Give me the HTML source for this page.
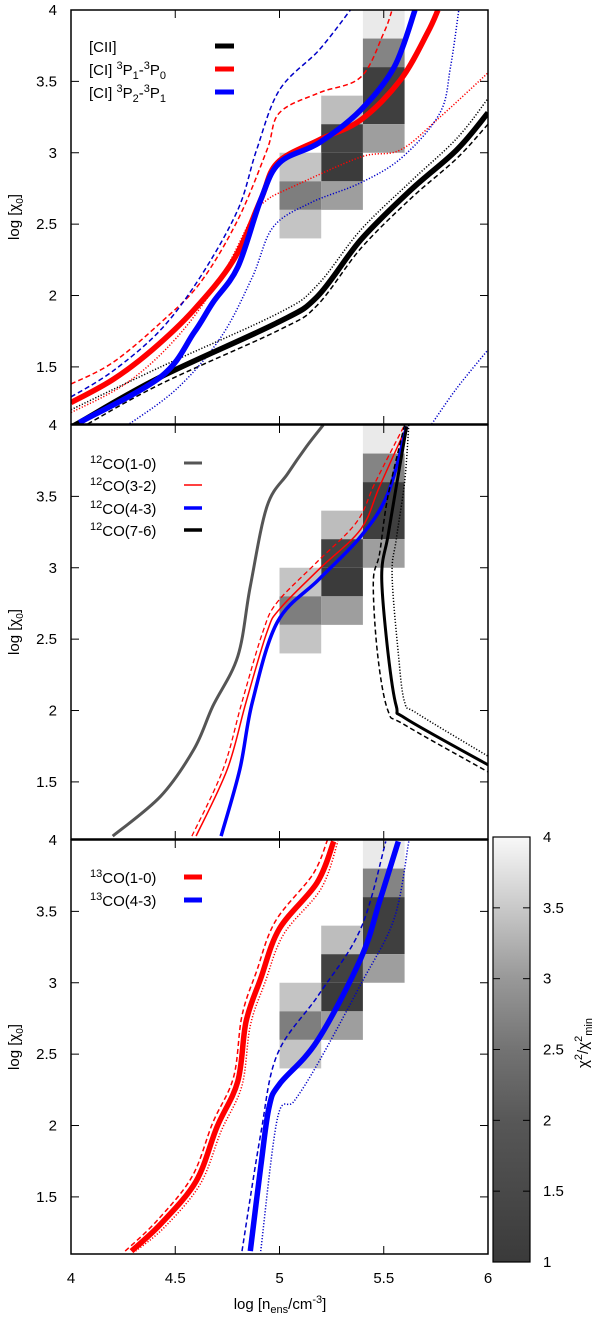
<!DOCTYPE html>
<html><head><meta charset="utf-8">
<style>
html,body{margin:0;padding:0;background:#fff;}
svg{display:block;font-family:"Liberation Sans",sans-serif;}
text{font-size:15px;fill:#000;}
</style></head>
<body>
<svg id="chart" width="600" height="1317" viewBox="0 0 600 1317" xmlns="http://www.w3.org/2000/svg">
<defs>
<linearGradient id="cbgrad" x1="0" y1="1" x2="0" y2="0">
<stop offset="0" stop-color="#3a3a3a"/><stop offset="0.33" stop-color="#575757"/>
<stop offset="0.5" stop-color="#737373"/><stop offset="0.67" stop-color="#999"/>
<stop offset="0.83" stop-color="#c8c8c8"/><stop offset="1" stop-color="#f8f8f8"/>
</linearGradient>
</defs>
<g id="cells"></g>
<g id="lines"></g>
<g id="frames"></g>
<g id="legends"></g>
</svg>
<script>
// ---- data ----
const xTicks = [4, 4.5, 5, 5.5, 6];
const yTicks = [1.5, 2, 2.5, 3, 3.5, 4];
const cbTicks = [1, 1.5, 2, 2.5, 3, 3.5, 4];
const cellX = [5.4, 5.4, 5.4, 5.4, 5.2, 5.2, 5.2, 5.2, 5.0, 5.0, 5.0];
const cellY = [3.8, 3.6, 3.2, 3.0, 3.2, 3.0, 2.8, 2.6, 2.8, 2.6, 2.4];
const cellH = [0.2, 0.2, 0.4, 0.2, 0.2, 0.2, 0.2, 0.2, 0.2, 0.2, 0.2];
const cellV = [3.9, 2.3, 1.2, 2.7, 3.2, 1.25, 1.15, 2.7, 3.3, 2.2, 3.3];

// panel 1
const ciiX = [4.0, 4.04, 4.43, 4.99, 5.18, 5.39, 5.63, 5.85, 6.0];
const ciiY = [1.08, 1.11, 1.43, 1.81, 1.99, 2.39, 2.74, 3.02, 3.28];
const ciiDotX = [4.0, 4.43, 5.0, 5.18, 5.39, 5.63, 5.85, 6.0];
const ciiDotY = [1.2, 1.5, 1.88, 2.07, 2.46, 2.8, 3.1, 3.38];
const ciiDashX = [4.08, 4.43, 5.0, 5.18, 5.39, 5.63, 5.85, 6.0];
const ciiDashY = [1.1, 1.38, 1.76, 1.93, 2.33, 2.68, 2.96, 3.2];
const ci10X = [4.0, 4.2, 4.39, 4.59, 4.78, 4.91, 4.99, 5.19, 5.39, 5.58, 5.71, 5.76];
const ci10Y = [1.25, 1.41, 1.62, 1.9, 2.25, 2.67, 2.93, 3.09, 3.23, 3.51, 3.84, 4.0];
const ci10DashX = [4.0, 4.2, 4.43, 4.62, 4.8, 4.94, 5.0, 5.19, 5.39, 5.5, 5.54];
const ci10DashY = [1.38, 1.53, 1.81, 2.09, 2.53, 3.02, 3.28, 3.42, 3.53, 3.84, 4.0];
const ci10DotX = [4.0, 4.27, 4.51, 4.72, 4.87, 4.94, 5.06, 5.39, 5.58, 5.77, 6.0];
const ci10DotY = [1.18, 1.39, 1.71, 2.13, 2.55, 2.67, 2.76, 2.97, 3.02, 3.25, 3.56];
const ci21X = [4.04, 4.43, 4.59, 4.68, 4.8, 4.91, 5.0, 5.19, 5.39, 5.55, 5.65];
const ci21Y = [1.11, 1.43, 1.74, 1.95, 2.2, 2.67, 2.93, 3.07, 3.3, 3.6, 4.0];
const ci21DashX = [4.0, 4.2, 4.43, 4.62, 4.8, 4.89, 5.0, 5.19, 5.34];
const ci21DashY = [1.29, 1.47, 1.76, 2.13, 2.6, 3.02, 3.44, 3.72, 4.0];
const ci21DotX = [4.27, 4.51, 4.72, 4.87, 4.97, 5.15, 5.39, 5.59, 5.77, 5.82, 5.86];
const ci21DotY = [1.09, 1.35, 1.71, 2.13, 2.48, 2.65, 2.79, 2.97, 3.28, 3.6, 4.0];
const ci21Dot2X = [5.73, 5.85, 6.0];
const ci21Dot2Y = [1.1, 1.35, 1.62];

// panel 2
const co10X = [4.2, 4.43, 4.59, 4.68, 4.8, 4.86, 4.94, 5.04, 5.13, 5.21];
const co10Y = [1.12, 1.4, 1.73, 2.03, 2.38, 2.87, 3.43, 3.66, 3.85, 4.0];
const co32X = [4.6, 4.75, 4.84, 4.94, 5.0, 5.19, 5.39, 5.48, 5.61];
const co32Y = [1.12, 1.59, 2.06, 2.55, 2.71, 2.99, 3.27, 3.57, 3.99];
const co32DashX = [4.58, 4.73, 4.82, 4.92, 4.99, 5.18, 5.37, 5.46, 5.6];
const co32DashY = [1.12, 1.59, 2.06, 2.55, 2.76, 3.04, 3.32, 3.6, 4.0];
const co43X = [4.72, 4.81, 4.87, 4.99, 5.19, 5.39, 5.52, 5.61];
const co43Y = [1.12, 1.59, 2.06, 2.62, 2.92, 3.22, 3.52, 3.99];
const co76X = [5.61, 5.56, 5.52, 5.49, 5.52, 5.56, 5.61, 6.0];
const co76Y = [3.99, 3.57, 3.22, 2.94, 2.41, 2.03, 1.94, 1.62];
const co76DashX = [5.6, 5.52, 5.48, 5.45, 5.47, 5.52, 5.6, 6.0];
const co76DashY = [4.0, 3.5, 3.1, 2.9, 2.4, 2.0, 1.9, 1.57];
const co76DotX = [5.62, 5.6, 5.56, 5.54, 5.57, 5.6, 5.66, 6.0];
const co76DotY = [4.0, 3.6, 3.2, 2.95, 2.4, 2.06, 1.98, 1.68];

// panel 3
const c13X = [4.29, 4.43, 4.6, 4.7, 4.8, 4.84, 4.91, 5.0, 5.18, 5.26];
const c13Y = [1.12, 1.31, 1.61, 1.99, 2.31, 2.73, 3.03, 3.38, 3.7, 3.99];
const c13DashX = [4.26, 4.41, 4.58, 4.68, 4.78, 4.82, 4.89, 4.98, 5.16, 5.23];
const c13DashY = [1.12, 1.33, 1.64, 2.02, 2.34, 2.77, 3.08, 3.43, 3.76, 4.0];
const c13DotX = [4.31, 4.45, 4.62, 4.72, 4.82, 4.86, 4.93, 5.02, 5.2, 5.28];
const c13DotY = [1.12, 1.29, 1.59, 1.96, 2.28, 2.7, 3.0, 3.34, 3.66, 3.99];
const c1343X = [4.86, 4.91, 4.95, 5.0, 5.18, 5.39, 5.48, 5.57];
const c1343Y = [1.12, 1.71, 2.13, 2.29, 2.59, 3.17, 3.57, 3.99];
const c1343DashX = [4.82, 4.91, 4.99, 5.19, 5.39, 5.51];
const c1343DashY = [1.12, 1.94, 2.5, 2.92, 3.38, 3.99];
const c1343DotX = [4.91, 4.99, 5.07, 5.19, 5.39, 5.55, 5.62];
const c1343DotY = [1.12, 2.05, 2.17, 2.45, 2.99, 3.45, 3.99];

// ---- layout ----
const NS = "http://www.w3.org/2000/svg";
const L = 71, R = 488, YMIN = 1.1, YMAX = 4;
const panelTops = [10, 425, 840];
const PH = 414;
function sx(v){ return L + (v - 4) / 2 * (R - L); }
function syF(top){ return v => top + (YMAX - v) / (YMAX - YMIN) * PH; }
function mk(tag, attrs, parent){
  const e = document.createElementNS(NS, tag);
  for (const k in attrs) e.setAttribute(k, attrs[k]);
  parent.appendChild(e); return e;
}
const svg = document.getElementById('chart');
const gCells = document.getElementById('cells');
const gLines = document.getElementById('lines');
const gFrames = document.getElementById('frames');
const gLeg = document.getElementById('legends');

const defs = svg.querySelector('defs');
panelTops.forEach((t, i) => {
  const cp = mk('clipPath', {id: 'clip' + i}, defs);
  mk('rect', {x: L, y: t, width: R - L, height: PH}, cp);
});

function grayOf(v){ const g = Math.round(50 + (v - 1) / 3 * 190); return `rgb(${g},${g},${g})`; }

panelTops.forEach((t, pi) => {
  const sy = syF(t);
  for (let i = 0; i < cellX.length; i++) {
    const r = mk('rect', {x: sx(cellX[i]), y: sy(cellY[i] + cellH[i]), width: sx(cellX[i] + 0.2) - sx(cellX[i]), height: sy(cellY[i]) - sy(cellY[i] + cellH[i]), fill: grayOf(cellV[i])}, gCells);
    
    
  }
});

function smoothPath(pts){
  let d = 'M' + pts[0][0].toFixed(1) + ',' + pts[0][1].toFixed(1);
  for (let i = 0; i < pts.length - 1; i++) {
    const p0 = pts[i - 1] || pts[i], p1 = pts[i], p2 = pts[i + 1], p3 = pts[i + 2] || p2;
    const c1x = p1[0] + (p2[0] - p0[0]) / 6, c1y = p1[1] + (p2[1] - p0[1]) / 6;
    const c2x = p2[0] - (p3[0] - p1[0]) / 6, c2y = p2[1] - (p3[1] - p1[1]) / 6;
    d += 'C' + c1x.toFixed(1) + ',' + c1y.toFixed(1) + ' ' + c2x.toFixed(1) + ',' + c2y.toFixed(1) + ' ' + p2[0].toFixed(1) + ',' + p2[1].toFixed(1);
  }
  return d;
}
function line(pi, xs, ys, color, w, style, name){
  const sy = syF(panelTops[pi]);
  const pts = xs.map((x, i) => [sx(x), sy(ys[i])]);
  const a = {d: smoothPath(pts), fill: 'none', stroke: color, 'stroke-width': w, 'stroke-linejoin': 'round', 'clip-path': 'url(#clip' + pi + ')'};
  if (style === 'dash') a['stroke-dasharray'] = '5,3';
  if (style === 'dot') a['stroke-dasharray'] = '1.2,1.8';
  const p = mk('path', a, gLines);
  
  
}
const RED = '#f00', BLUE = '#00f', DBLUE = '#0000c8';
line(0, ciiDotX, ciiDotY, '#000', 1.5, 'dot', 'cii-dotted');
line(0, ciiDashX, ciiDashY, '#000', 1.5, 'dash', 'cii-dashed');
line(0, ci10DashX, ci10DashY, RED, 1.5, 'dash', 'ci10-dashed');
line(0, ci10DotX, ci10DotY, RED, 1.5, 'dot', 'ci10-dotted');
line(0, ci21DashX, ci21DashY, DBLUE, 1.5, 'dash', 'ci21-dashed');
line(0, ci21DotX, ci21DotY, DBLUE, 1.5, 'dot', 'ci21-dotted');
line(0, ci21Dot2X, ci21Dot2Y, DBLUE, 1.5, 'dot', 'ci21-dotted-branch');
line(0, ciiX, ciiY, '#000', 5.5, 'solid', 'cii-line');
line(0, ci10X, ci10Y, RED, 5.5, 'solid', 'ci10-line');
line(0, ci21X, ci21Y, BLUE, 5.5, 'solid', 'ci21-line');
line(1, co10X, co10Y, '#555', 3, 'solid', 'co10-line');
line(1, co32DashX, co32DashY, RED, 1.3, 'dash', 'co32-dashed');
line(1, co32X, co32Y, RED, 1.5, 'solid', 'co32-line');
line(1, co43X, co43Y, BLUE, 3.5, 'solid', 'co43-line');
line(1, co76DashX, co76DashY, '#000', 1.5, 'dash', 'co76-dashed');
line(1, co76DotX, co76DotY, '#000', 1.5, 'dot', 'co76-dotted');
line(1, co76X, co76Y, '#000', 3, 'solid', 'co76-line');
line(2, c13DashX, c13DashY, RED, 1.5, 'dash', '13co10-dashed');
line(2, c13DotX, c13DotY, RED, 1.5, 'dot', '13co10-dotted');
line(2, c13X, c13Y, RED, 5.5, 'solid', '13co10-line');
line(2, c1343DashX, c1343DashY, DBLUE, 1.5, 'dash', '13co43-dashed');
line(2, c1343DotX, c1343DotY, DBLUE, 1.5, 'dot', '13co43-dotted');
line(2, c1343X, c1343Y, BLUE, 5.5, 'solid', '13co43-line');

panelTops.forEach((t, pi) => {
  const sy = syF(t);
  const f = mk('rect', {x: L, y: t, width: R - L, height: PH, fill: 'none', stroke: '#000', 'stroke-width': 1.5}, gFrames);
  
  
  xTicks.forEach(v => {
    if (v === 4 || v === 6) return;
    mk('line', {x1: sx(v), x2: sx(v), y1: t, y2: t + 8, stroke: '#000', 'stroke-width': 1}, gFrames);
    mk('line', {x1: sx(v), x2: sx(v), y1: t + PH, y2: t + PH - 8, stroke: '#000', 'stroke-width': 1}, gFrames);
  });
  yTicks.forEach(v => {
    mk('line', {x1: L, x2: L + 8, y1: sy(v), y2: sy(v), stroke: '#000', 'stroke-width': 1}, gFrames);
    mk('line', {x1: R, x2: R - 8, y1: sy(v), y2: sy(v), stroke: '#000', 'stroke-width': 1}, gFrames);
    const tx = mk('text', {x: 57, y: sy(v) + 5, 'text-anchor': 'end'}, gFrames);
    tx.textContent = String(v);
    
    
  });
  const yl = mk('text', {transform: `translate(19,${t + PH / 2}) rotate(-90)`, 'text-anchor': 'middle'}, gFrames);
  yl.innerHTML = 'log [χ<tspan dy="4" font-size="10">0</tspan><tspan dy="-4">]</tspan>';
  
  
});
xTicks.forEach(v => {
  const tx = mk('text', {x: sx(v), y: 1283, 'text-anchor': 'middle'}, gFrames);
  tx.textContent = String(v);
  
  
});
const xl = mk('text', {x: 280, y: 1309, 'text-anchor': 'middle'}, gFrames);
xl.innerHTML = 'log [n<tspan dy="4" font-size="11">ens</tspan><tspan dy="-4">/cm</tspan><tspan dy="-6" font-size="11">-3</tspan><tspan dy="6">]</tspan>';



const CBT = 837, CBB = 1262, CBL = 493, CBR = 530;
function cby(v){ return CBB - (v - 1) / 3 * (CBB - CBT); }
const cb = mk('rect', {x: CBL, y: CBT, width: CBR - CBL, height: CBB - CBT, fill: 'url(#cbgrad)', stroke: '#000', 'stroke-width': 1.2}, gFrames);


cbTicks.forEach(v => {
  mk('line', {x1: CBL, x2: CBL + 7, y1: cby(v), y2: cby(v), stroke: '#000'}, gFrames);
  mk('line', {x1: CBR, x2: CBR - 7, y1: cby(v), y2: cby(v), stroke: '#000'}, gFrames);
  const tx = mk('text', {x: 543, y: cby(v) + 5}, gFrames);
  tx.textContent = String(v);
  
  
});
const cbt = mk('text', {transform: 'translate(588,1043) rotate(-90)', 'text-anchor': 'middle', 'font-size': '16'}, gFrames);
cbt.innerHTML = 'χ<tspan dy="-6" font-size="11">2</tspan><tspan dy="6">/χ</tspan><tspan dy="-6" font-size="11">2</tspan><tspan dy="10" font-size="11">min</tspan>';



function legend(x, y, html, color, w, lx1, lx2, name){
  const g = mk('g', {}, gLeg);
  
  
  const tx = mk('text', {x: x, y: y + 6, 'font-size': '16'}, g);
  tx.innerHTML = html;
  mk('line', {x1: lx1, x2: lx2, y1: y, y2: y, stroke: color, 'stroke-width': w}, g);
}
legend(89, 46, '[CII]', '#000', 5, 215, 234, 'legend-cii');
legend(89, 69, '[CI] <tspan dy="-6" font-size="11">3</tspan><tspan dy="6">P</tspan><tspan dy="4" font-size="11">1</tspan><tspan dy="-4">-</tspan><tspan dy="-6" font-size="11">3</tspan><tspan dy="6">P</tspan><tspan dy="4" font-size="11">0</tspan>', RED, 5, 215, 234, 'legend-ci10');
legend(89, 92, '[CI] <tspan dy="-6" font-size="11">3</tspan><tspan dy="6">P</tspan><tspan dy="4" font-size="11">2</tspan><tspan dy="-4">-</tspan><tspan dy="-6" font-size="11">3</tspan><tspan dy="6">P</tspan><tspan dy="4" font-size="11">1</tspan>', BLUE, 5, 215, 234, 'legend-ci21');
const co = (a, b) => `<tspan dy="-6" font-size="11">${a}</tspan><tspan dy="6">CO(${b})</tspan>`;
legend(90, 463, co(12, '1-0'), '#555', 3, 184, 202, 'legend-co10');
legend(90, 485, co(12, '3-2'), RED, 1.5, 184, 202, 'legend-co32');
legend(90, 508, co(12, '4-3'), BLUE, 3.5, 184, 202, 'legend-co43');
legend(90, 530, co(12, '7-6'), '#000', 3.5, 184, 202, 'legend-co76');
legend(90, 877, co(13, '1-0'), RED, 5, 184, 202, 'legend-13co10');
legend(90, 900, co(13, '4-3'), BLUE, 5, 184, 202, 'legend-13co43');
</script>
</body></html>
